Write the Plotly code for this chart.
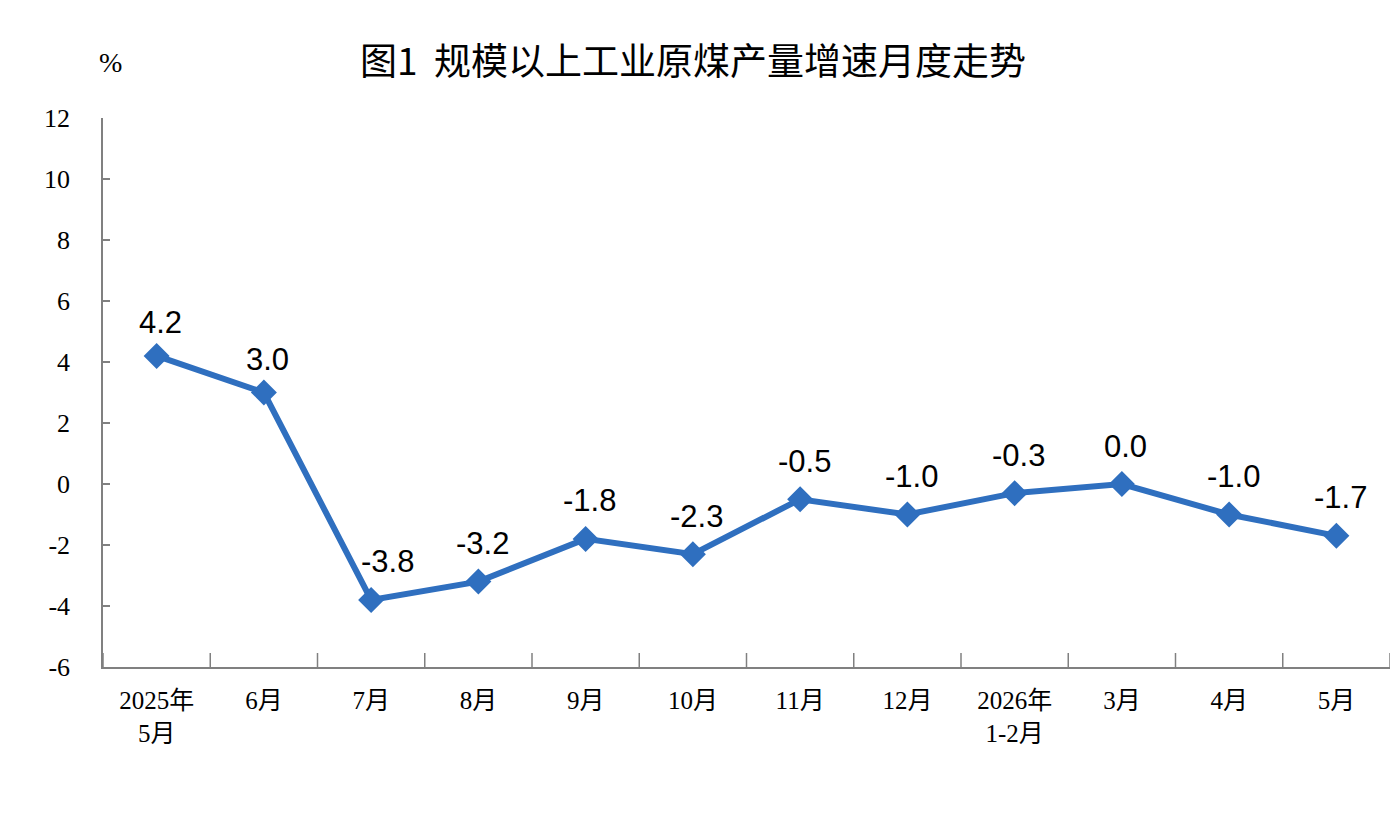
import plotly.graph_objects as go

months = ["2025年<br>5月", "6月", "7月", "8月", "9月", "10月", "11月", "12月",
          "2026年<br>1-2月", "3月", "4月", "5月"]
growth = [4.2, 3.0, -3.8, -3.2, -1.8, -2.3, -0.5, -1.0, -0.3, 0.0, -1.0, -1.7]
y_ticks = [-6, -4, -2, 0, 2, 4, 6, 8, 10, 12]

line_color = "#2F6FBF"
axis_color = "#808080"

W, H = 1400, 838
L, R, T, B = 95, 18, 110, 179
plot_h = H - T - B

fig = go.Figure()

fig.add_trace(
    go.Scatter(
        x=list(range(len(months))),
        y=growth,
        mode="lines+markers",
        line=dict(color=line_color, width=6),
        marker=dict(symbol="diamond", size=20, color=line_color),
        showlegend=False,
        hoverinfo="skip",
    )
)

# value labels above each point (the 7月 one is nudged off the steep line)
for i, v in enumerate(growth):
    fig.add_annotation(
        x=i, y=v, text=f"{v:.1f}", showarrow=False,
        yshift=38 if i > 1 else 33, xshift=16 if i == 2 else 4,
        font=dict(family="Liberation Sans, Arial", size=31, color="black"),
    )

fig.update_layout(
    width=W, height=H,
    margin=dict(l=L, r=R, t=T, b=B),
    paper_bgcolor="white", plot_bgcolor="white",
    title=dict(
        text="图1  规模以上工业原煤产量增速月度走势",
        x=(693 - 8) / W, xanchor="center", xref="container",
        y=1 - 54 / H, yanchor="middle",
        font=dict(family="Noto Sans CJK SC", size=37, color="black", weight="normal"),
    ),
)

fig.add_annotation(
    xref="paper", yref="paper", x=(110 - 8 - L) / (W - L - R), y=1 + (T - 54) / plot_h,
    text="%", showarrow=False, xanchor="center", yanchor="middle",
    font=dict(family="Liberation Serif, Times New Roman", size=28, color="black"),
)

fig.update_xaxes(
    range=[-0.5, len(months) - 0.5],
    tickmode="array", tickvals=list(range(len(months))), ticktext=months,
    showline=True, linecolor=axis_color, linewidth=2,
    ticks="", showgrid=False, zeroline=False, automargin=False,
    ticklabelstandoff=10,
    tickfont=dict(family="Liberation Serif, Noto Sans CJK SC", size=25, color="black"),
)
fig.update_yaxes(
    range=[-6, 12], tickmode="array", tickvals=y_ticks,
    ticktext=[str(t) for t in y_ticks],
    showline=True, linecolor=axis_color, linewidth=1.5,
    ticks="inside", ticklen=7, tickcolor=axis_color, tickwidth=1.5,
    showgrid=False, zeroline=False, automargin=False,
    tickfont=dict(family="Liberation Serif, Times New Roman", size=26, color="black"),
    ticklabelstandoff=26,
)

# boundary ticks between categories on x axis
for b in range(len(months) + 1):
    fig.add_shape(
        type="line", xref="x", yref="paper",
        x0=b - 0.5, x1=b - 0.5, y0=0, y1=14 / plot_h,
        line=dict(color=axis_color, width=1.5),
    )

fig.write_html("out.html")
